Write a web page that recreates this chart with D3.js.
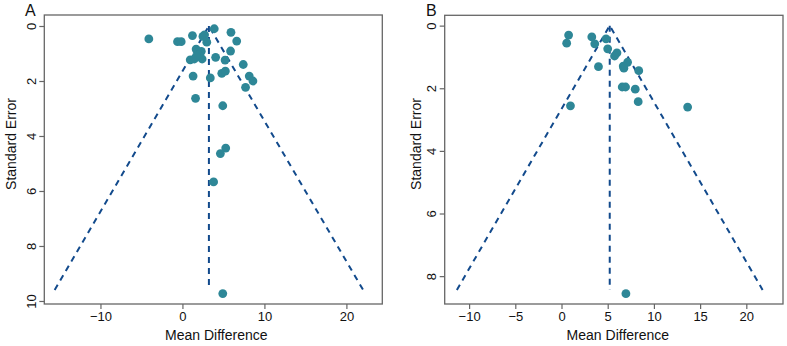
<!DOCTYPE html>
<html>
<head>
<meta charset="utf-8">
<script src="https://cdn.jsdelivr.net/npm/d3@7"></script>
<style>
  html, body { margin: 0; padding: 0; background: #fff; }
  svg { display: block; font-family: "Liberation Sans", Arial, sans-serif; }
</style>
</head>
<body>
<svg id="chart" width="787" height="346"></svg>
<script>
// Panel A data: mean difference and standard error for each study
const meanDiffA = [-4.1, -0.6, -0.15, 1.22, 2.5, 2.7, 2.97, 3.88, 5.92, 6.62,
  1.67, 2.3, 1.95, 0.95, 1.45, 2.4, 1.7, 4.05, 5.2, 5.87, 7.42, 1.3, 3.4, 4.8, 5.24,
  8.15, 8.6, 7.7, 1.6, 4.92, 5.28, 4.63, 3.8, 4.92];
const stdErrA = [0.47, 0.57, 0.57, 0.35, 0.38, 0.32, 0.59, 0.1, 0.23, 0.55,
  0.84, 0.92, 1.05, 1.23, 1.2, 1.2, 1.1, 1.14, 1.24, 0.91, 1.4, 1.82, 1.89, 1.72, 1.64,
  1.82, 2.0, 2.23, 2.63, 2.9, 4.44, 4.64, 5.67, 9.73];
// Panel B data
const meanDiffB = [0.77, 0.56, 3.28, 3.6, 4.82, 5.0, 4.0, 6.0, 5.74, 7.15, 6.68, 6.75,
  8.36, 6.57, 6.93, 7.98, 8.3, 0.97, 13.65, 6.97];
const stdErrB = [0.3, 0.56, 0.36, 0.58, 0.42, 0.74, 1.31, 0.87, 0.97, 1.17, 1.29, 1.36,
  1.44, 1.96, 1.96, 2.03, 2.43, 2.56, 2.6, 8.56];
// Funnel: pooled estimate and maximum standard error
const pooledA = 3.23, maxSeA = 9.6;
const pooledB = 5.22, maxSeB = 8.44;
// Tick labels
const xTicksA = [-10, 0, 10, 20];
const yTicksA = [0, 2, 4, 6, 8, 10];
const xTicksB = [-10, -5, 0, 5, 10, 15, 20];
const yTicksB = [0, 2, 4, 6, 8];
const panelLabels = ["A", "B"];

const svg = d3.select("#chart");
const fmt = v => (v < 0 ? "\u2212" + Math.abs(v) : String(v));

function drawPanel(cfg) {
  const g = svg.append("g");
  const x = d3.scaleLinear().domain(cfg.xDomain).range([cfg.left, cfg.right]);
  const y = d3.scaleLinear().domain(cfg.yDomain).range([cfg.top, cfg.bottom]);

  // funnel lines
  const z = 1.96;
  const lineStyle = sel => sel.attr("fill", "none").attr("stroke", "#124a8c")
    .attr("stroke-width", 2).attr("stroke-dasharray", "6,5");
  g.append("path")
    .attr("d", d3.line()([[x(cfg.pooled - z * cfg.maxSe), y(cfg.maxSe)], [x(cfg.pooled), y(0)], [x(cfg.pooled + z * cfg.maxSe), y(cfg.maxSe)]]))
    .call(lineStyle);
  g.append("path")
    .attr("d", d3.line()([[x(cfg.pooled), y(0)], [x(cfg.pooled), y(cfg.maxSe)]]))
    .call(lineStyle);

  // points
  g.selectAll("circle.pt").data(cfg.xs.map((v, i) => [v, cfg.ys[i]])).join("circle")
    .attr("class", "pt")
    .attr("cx", d => x(d[0])).attr("cy", d => y(d[1]))
    .attr("r", 4.4).attr("fill", "#2e8797");

  // box
  g.append("rect").attr("x", cfg.left).attr("y", cfg.top)
    .attr("width", cfg.right - cfg.left).attr("height", cfg.bottom - cfg.top)
    .attr("fill", "none").attr("stroke", "#666").attr("stroke-width", 1.3);

  // x axis
  const xa = g.append("g").attr("transform", `translate(0,${cfg.bottom})`)
    .call(d3.axisBottom(x).tickValues(cfg.xTicks).tickSize(5).tickSizeOuter(0).tickPadding(3).tickFormat(fmt));
  xa.select(".domain").remove();
  xa.selectAll("line").attr("stroke", "#666").attr("stroke-width", 1.2);
  xa.selectAll("text").attr("font-size", 13).attr("fill", "#111")
    .attr("font-family", "Liberation Sans, Arial, sans-serif");

  // y axis
  const ya = g.append("g").attr("transform", `translate(${cfg.left},0)`)
    .call(d3.axisLeft(y).tickValues(cfg.yTicks).tickSize(5).tickSizeOuter(0).tickFormat(fmt));
  ya.select(".domain").remove();
  ya.selectAll("line").attr("stroke", "#666").attr("stroke-width", 1.2);
  ya.selectAll("text")
    .attr("font-size", 13).attr("fill", "#111")
    .attr("font-family", "Liberation Sans, Arial, sans-serif")
    .attr("x", 0).attr("dy", null)
    .attr("text-anchor", "middle")
    .attr("transform", `translate(${-cfg.yLabelOff},0) rotate(-90)`)
    .attr("dominant-baseline", "central");

  // axis titles
  g.append("text").attr("x", (cfg.left + cfg.right) / 2 + cfg.xTitleShift).attr("y", 340)
    .attr("text-anchor", "middle").attr("font-size", 14).attr("fill", "#111")
    .text("Mean Difference");
  g.append("text")
    .attr("transform", `translate(${cfg.yTitleX},${cfg.yTitleY}) rotate(-90)`)
    .attr("text-anchor", "middle").attr("font-size", 14).attr("fill", "#111")
    .text("Standard Error");

  // panel label
  g.append("text").attr("x", cfg.labelX).attr("y", 16)
    .attr("font-size", 16).attr("fill", "#111").text(cfg.label);
}

drawPanel({
  xs: meanDiffA, ys: stdErrA, pooled: pooledA, maxSe: maxSeA,
  xTicks: xTicksA, yTicks: yTicksA,
  left: 44.3, right: 382.3, top: 15, bottom: 304,
  xDomain: [-16.85, 24.38], yDomain: [-0.4, 10.11],
  yLabelOff: 13, yTitleX: 16, yTitleY: 144, xTitleShift: 3, labelX: 25, label: panelLabels[0]
});
drawPanel({
  xs: meanDiffB, ys: stdErrB, pooled: pooledB, maxSe: maxSeB,
  xTicks: xTicksB, yTicks: yTicksB,
  left: 444.7, right: 783, top: 15.3, bottom: 304,
  xDomain: [-12.64, 23.97], yDomain: [-0.33, 8.89],
  yLabelOff: 13, yTitleX: 421, yTitleY: 144, xTitleShift: 4, labelX: 426, label: panelLabels[1]
});
</script>
</body>
</html>
